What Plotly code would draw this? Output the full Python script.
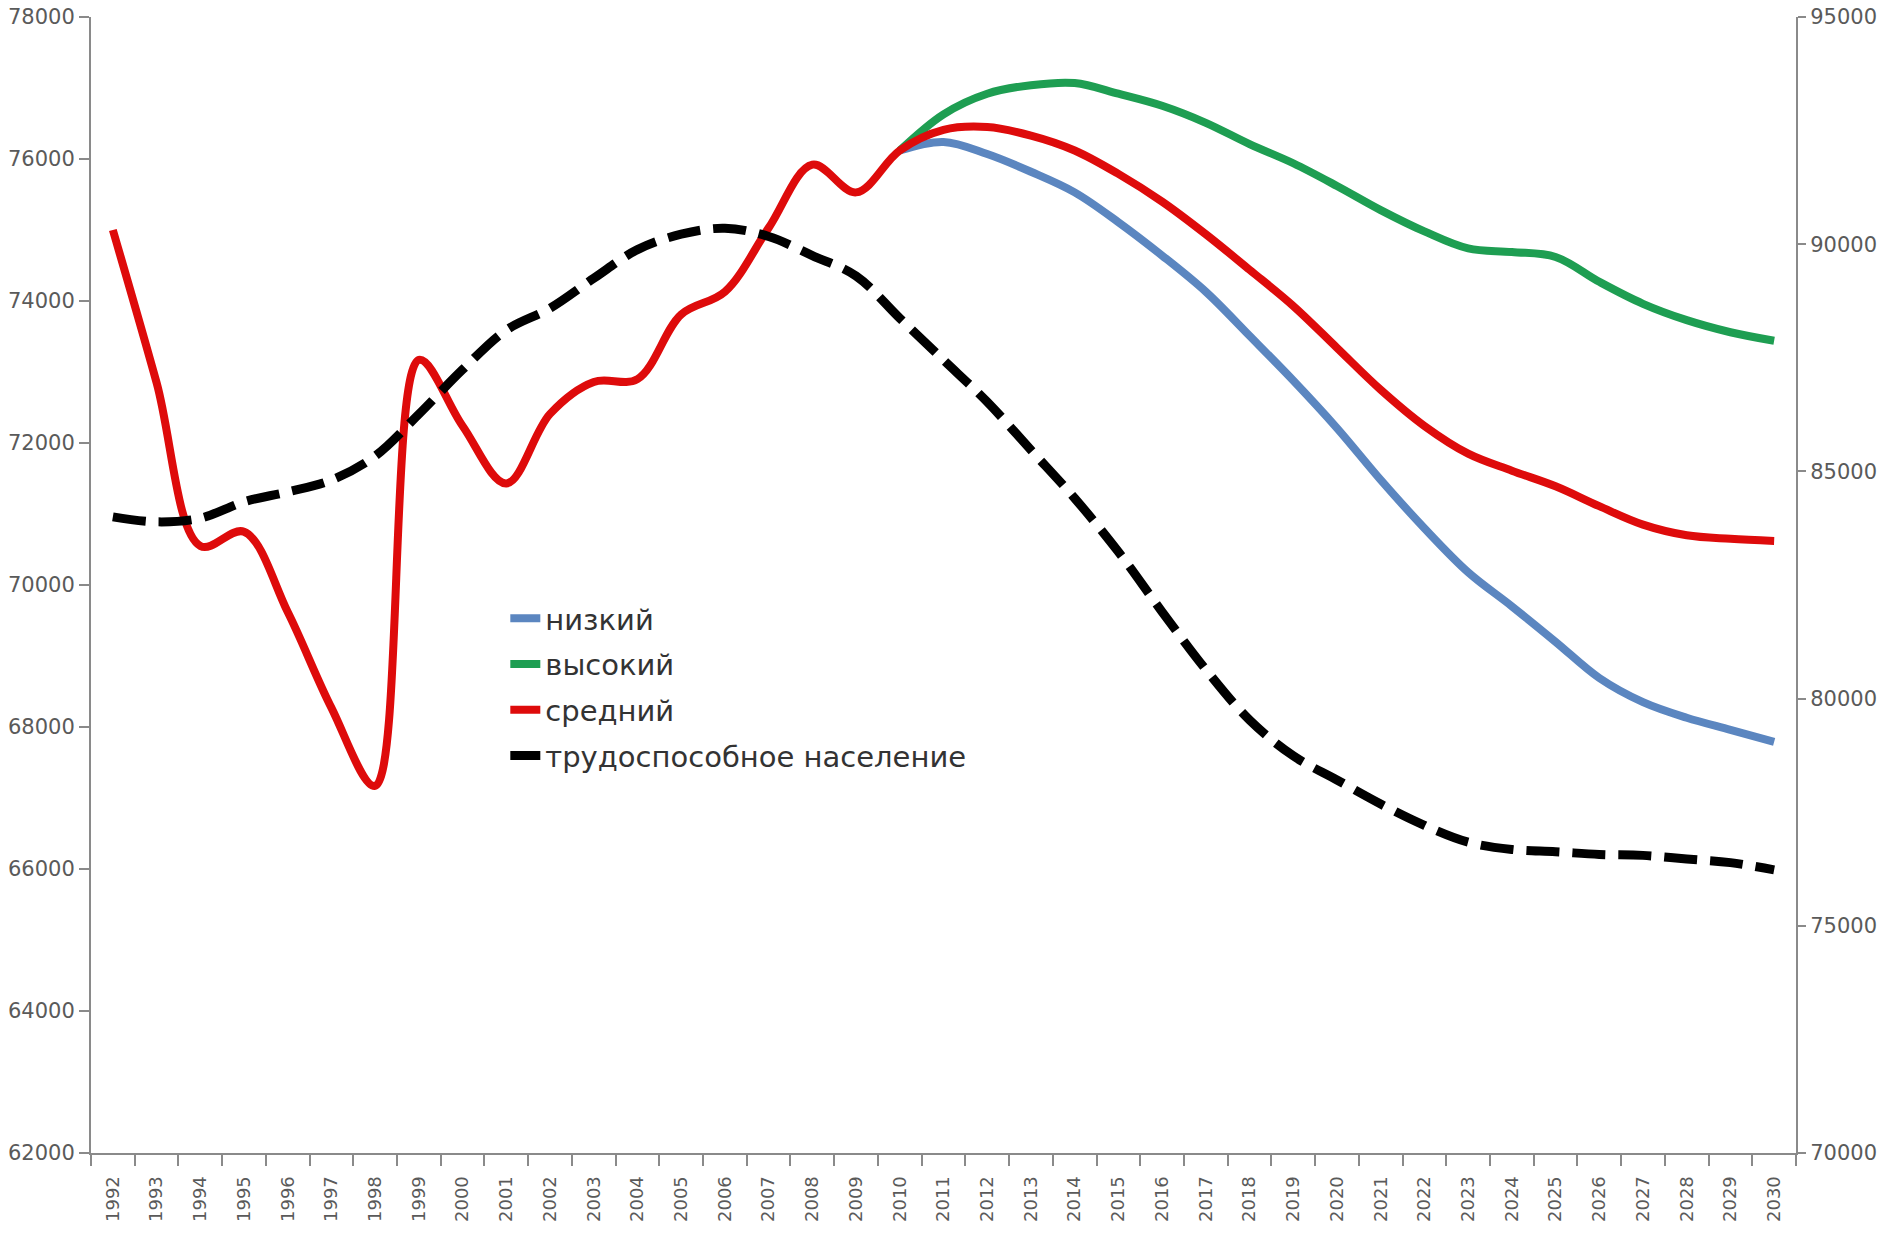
import plotly.graph_objects as go

years = [str(y) for y in range(1992, 2031)]

# средний (medium scenario, incl. history) — left axis
medium = [75000, 72850, 70550, 70750, 69620, 68270, 67170, 73170, 72240, 71430,
          72410, 72860, 72900, 73810, 74130, 75030, 75920, 75530, 76120, 76410,
          76450, 76330, 76120, 75790, 75400, 74940, 74440, 73930, 73340, 72750,
          72240, 71850, 71610, 71390, 71110, 70850, 70700, 70650, 70620]

# высокий (high scenario) — left axis, from 2010
high = [None] * 18 + [76120, 76630, 76920, 77040, 77070, 76920, 76750, 76510, 76210,
                      75940, 75620, 75280, 74980, 74740, 74690, 74620, 74270, 73960,
                      73730, 73560, 73440]

# низкий (low scenario) — left axis, from 2010
low = [None] * 18 + [76120, 76240, 76070, 75820, 75530, 75110, 74640, 74130, 73510,
                     72880, 72210, 71480, 70800, 70180, 69700, 69200, 68690, 68350,
                     68130, 67960, 67790]

# трудоспособное население — right axis
working = [84000, 83890, 83970, 84330, 84550, 84810, 85340, 86260, 87240, 88110,
           88590, 89250, 89880, 90220, 90350, 90170, 89750, 89300, 88370, 87450,
           86530, 85470, 84410, 83230, 81910, 80640, 79530, 78740, 78210, 77680,
           77210, 76840, 76680, 76630, 76570, 76550, 76470, 76390, 76230]

fig = go.Figure()
fig.add_trace(go.Scatter(x=years, y=low, name="низкий", mode="lines", legendgroup="a",
                         line=dict(color="#5B86C0", width=8, shape="spline", smoothing=1.0)))
fig.add_trace(go.Scatter(x=years, y=high, name="высокий", mode="lines", legendgroup="b",
                         line=dict(color="#1E9E52", width=8, shape="spline", smoothing=1.0)))
fig.add_trace(go.Scatter(x=years, y=medium, name="средний", mode="lines", legendgroup="c",
                         line=dict(color="#DE0B0B", width=8, shape="spline", smoothing=1.0)))
fig.add_trace(go.Scatter(x=years, y=working, name="трудоспособное население", mode="lines",
                         legendgroup="d", yaxis="y2",
                         line=dict(color="#000000", width=9, dash="33px,13px",
                                   shape="spline", smoothing=1.0)))

axis_col = "#8a8a8a"
tick_font = dict(family="DejaVu Sans", size=21, color="#5a5a5a")

fig.update_layout(
    width=1881, height=1238,
    margin=dict(l=91, r=85, t=17, b=85),
    paper_bgcolor="white", plot_bgcolor="white",
    showlegend=True,
    legend=dict(x=0.243, y=0.493, xanchor="left", yanchor="top",
                bgcolor="rgba(0,0,0,0)", tracegroupgap=5,
                font=dict(family="DejaVu Sans", size=29, color="#333333")),
    xaxis=dict(type="category", range=[-0.5, 38.5], tickson="boundaries",
               ticks="outside", ticklen=11, tickwidth=2, tickcolor=axis_col,
               showline=True, linecolor=axis_col, linewidth=2, showgrid=False,
               tickangle=-90, ticklabelstandoff=14, automargin=False,
               tickfont=dict(family="DejaVu Sans", size=18, color="#5a5a5a"),
               zeroline=False),
    yaxis=dict(range=[62000, 78000], dtick=2000, tickformat="d", automargin=False,
               ticks="outside", ticklen=10, tickwidth=2, tickcolor=axis_col,
               showline=True, linecolor=axis_col, linewidth=2, showgrid=False,
               zeroline=False, tickfont=tick_font),
    yaxis2=dict(range=[70000, 95000], dtick=5000, tickformat="d", overlaying="y",
                side="right", ticks="outside", ticklen=8, tickwidth=2, tickcolor=axis_col,
                showline=True, linecolor=axis_col, linewidth=2, showgrid=False,
                automargin=False, zeroline=False, tickfont=tick_font),
)

fig.write_html("out.html", config={"displayModeBar": False},
               post_script="document.body.style.margin='0';document.body.style.overflow='hidden';")
